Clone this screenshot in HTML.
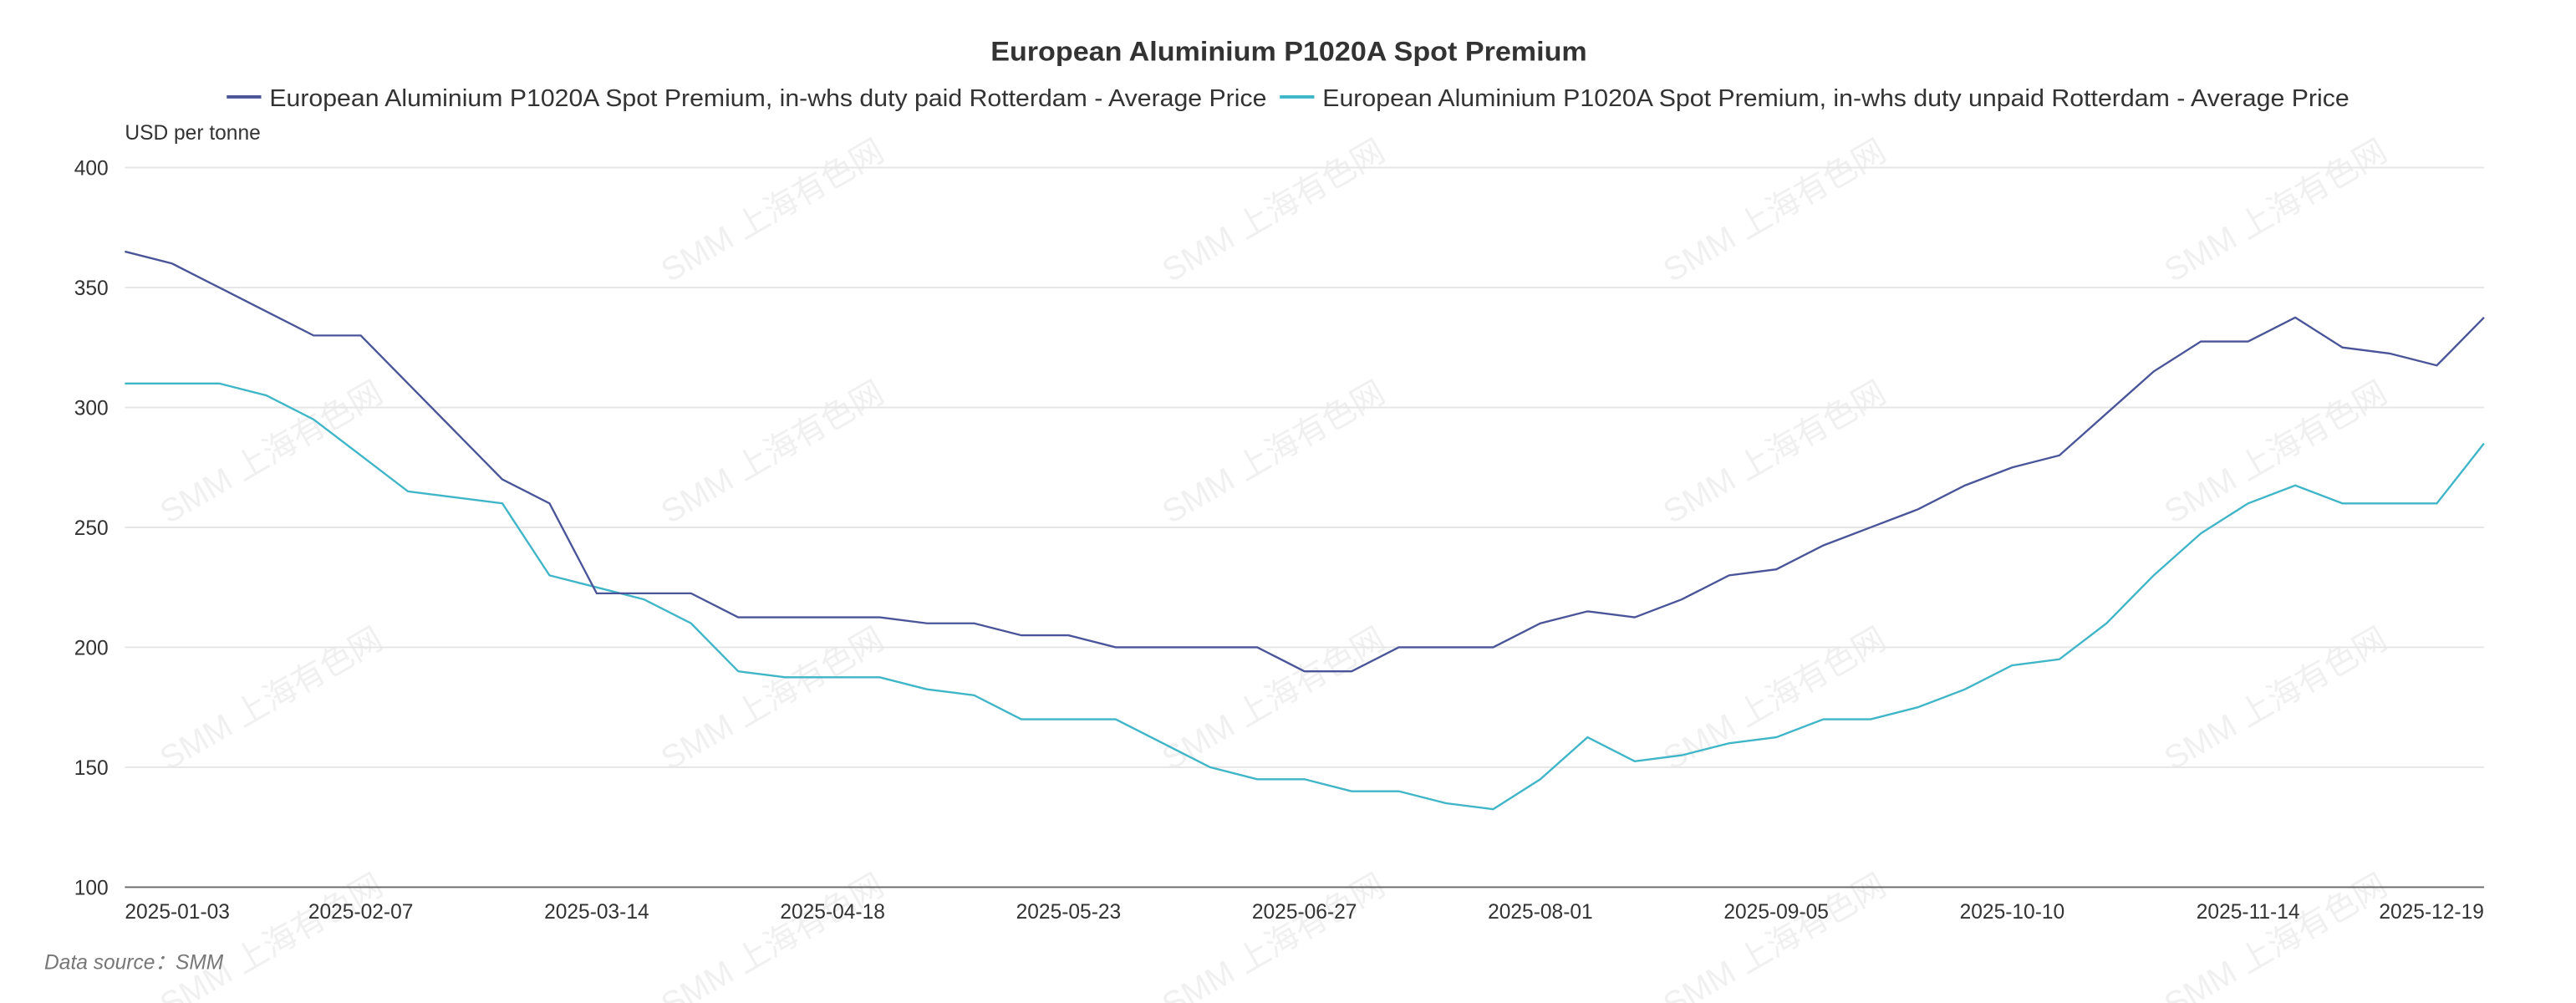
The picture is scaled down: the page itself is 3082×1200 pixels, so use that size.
<!DOCTYPE html>
<html><head><meta charset="utf-8"><style>
html,body{margin:0;padding:0;background:#fff;}
svg{display:block;font-family:"Liberation Sans","Noto Sans CJK SC",sans-serif;}
</style></head><body>
<svg id="chart" width="3082" height="1200" viewBox="0 0 1568 610.5" preserveAspectRatio="none" xmlns="http://www.w3.org/2000/svg">
<g id="wm"></g>
<text x="603" y="37" textLength="363" lengthAdjust="spacingAndGlyphs" font-size="16.5" font-weight="bold" fill="#333">European Aluminium P1020A Spot Premium</text>
<g>
<line x1="138" y1="59" x2="159" y2="59" stroke="#4a5599" stroke-width="2"/>
<text x="164" y="64.5" font-size="14.5" textLength="607" lengthAdjust="spacingAndGlyphs" fill="#333">European Aluminium P1020A Spot Premium, in-whs duty paid Rotterdam - Average Price</text>
</g>
<g>
<line x1="779" y1="59" x2="800" y2="59" stroke="#3fb5c8" stroke-width="2"/>
<text x="805" y="64.5" font-size="14.5" textLength="625" lengthAdjust="spacingAndGlyphs" fill="#333">European Aluminium P1020A Spot Premium, in-whs duty unpaid Rotterdam - Average Price</text>
</g>
<text x="76" y="85" font-size="12.5" fill="#333">USD per tonne</text>
<g id="grid"></g>
<g id="yt"></g>
<g id="xt"></g>
<g id="series"></g>
<text x="27" y="590" font-size="12.5" font-style="italic" fill="#777">Data source：SMM</text>
</svg>
<script>
const yTicks=[100,150,200,250,300,350,400];
const xLabels=["2025-01-03","2025-02-07","2025-03-14","2025-04-18","2025-05-23","2025-06-27","2025-08-01","2025-09-05","2025-10-10","2025-11-14","2025-12-19"];
const paid=[365,360,350,340,330,330,310,290,270,260,222.5,222.5,222.5,212.5,212.5,212.5,212.5,210,210,205,205,200,200,200,200,190,190,200,200,200,210,215,212.5,220,230,232.5,242.5,250,257.5,267.5,275,280,297.5,315,327.5,327.5,337.5,325,322.5,317.5,337.5];
const unpaid=[310,310,310,305,295,280,265,262.5,260,230,225,220,210,190,187.5,187.5,187.5,182.5,180,170,170,170,160,150,145,145,140,140,135,132.5,145,162.5,152.5,155,160,162.5,170,170,175,182.5,192.5,195,210,230,247.5,260,267.5,260,260,260,285];
const NS="http://www.w3.org/2000/svg";
const X0=76,X1=1512,Y0=540,Y1=102;
const n=paid.length;
function xs(i){return X0+(X1-X0)*i/(n-1);}
function ys(v){return Y0-(v-100)/(400-100)*(Y0-Y1);}
function mk(t,a,p){const e=document.createElementNS(NS,t);for(const k in a)e.setAttribute(k,a[k]);p.appendChild(e);return e;}
const grid=document.getElementById('grid'),yt=document.getElementById('yt'),xt=document.getElementById('xt'),ser=document.getElementById('series'),wm=document.getElementById('wm');
const wmRows=[128,275,425,575];
wmRows.forEach((cy,r)=>{for(let c=0;c<5;c++){
 if(r==0&&c==0)continue;
 const cx=165+c*305;
 const t=mk('text',{x:cx,y:cy+7,'font-size':20,fill:'#f0f0f0','text-anchor':'middle',transform:`rotate(-30 ${cx} ${cy})`},wm);
 
 
 t.textContent='SMM 上海有色网';
}});
yTicks.forEach(v=>{
 const l=mk('line',{x1:X0,x2:X1,y1:ys(v),y2:ys(v),stroke:v==100?'#666':'#e6e6e6','stroke-width':1},grid);
 
 
 const t=mk('text',{x:66,y:ys(v)+4.5,'text-anchor':'end','font-size':12.5,fill:'#333'},yt);
 
 
 t.textContent=v;
});
xLabels.forEach((s,k)=>{
 const i=k*5;
 const anchor=k==0?'start':(k==xLabels.length-1?'end':'middle');
 const t=mk('text',{x:xs(i),y:559,'text-anchor':anchor,'font-size':12.5,fill:'#333'},xt);
 
 
 t.textContent=s;
});
function line(arr,color,name){
 const p=mk('polyline',{points:arr.map((v,i)=>xs(i)+','+ys(v)).join(' '),fill:'none',stroke:color,'stroke-width':1.2},ser);
 
 
}
line(unpaid,'#3fb5c8','line-duty-unpaid');
line(paid,'#4a5599','line-duty-paid');
</script>
</body></html>
